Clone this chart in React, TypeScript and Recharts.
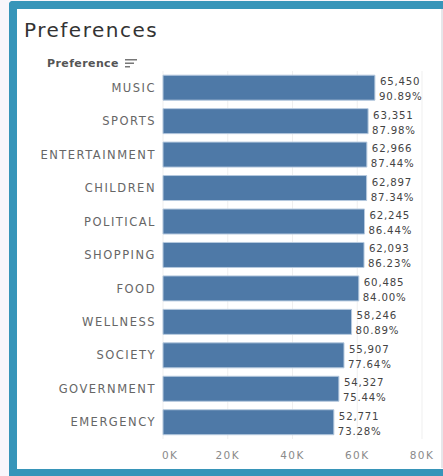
import { Bar, BarChart, CartesianGrid, LabelList, XAxis, YAxis } from "recharts";

const CATEGORIES = [
  "MUSIC",
  "SPORTS",
  "ENTERTAINMENT",
  "CHILDREN",
  "POLITICAL",
  "SHOPPING",
  "FOOD",
  "WELLNESS",
  "SOCIETY",
  "GOVERNMENT",
  "EMERGENCY",
];
const COUNTS = [65450, 63351, 62966, 62897, 62245, 62093, 60485, 58246, 55907, 54327, 52771];
const PERCENTS = [90.89, 87.98, 87.44, 87.34, 86.44, 86.23, 84.0, 80.89, 77.64, 75.44, 73.28];
const X_TICKS = [0, 20000, 40000, 60000, 80000];

const FONT = "'DejaVu Sans', sans-serif";
const TEAL = "#3795b9";
const BAR_BLUE = "#4e79a7";

const rows = CATEGORIES.map((name, i) => ({
  name,
  value: COUNTS[i],
  pct: PERCENTS[i],
}));

function XTick(props: any) {
  const { x, y, payload, index } = props;
  return (
    <text
      x={index === 0 ? x - 1 : x}
      y={y}
      dy="0.71em"
      textAnchor={index === 0 ? "start" : "middle"}
      fontSize={10.5}
      fill="#8a8a8a"
      fontFamily={FONT}
      letterSpacing={1.4}
    >
      {payload.value / 1000}K
    </text>
  );
}

function YTick(props: any) {
  const { x, y, payload } = props;
  return (
    <text
      x={x}
      y={y}
      dy="0.355em"
      textAnchor="end"
      fontSize={11.5}
      fill="#666"
      fontFamily={FONT}
      letterSpacing={1.5}
    >
      {payload.value}
    </text>
  );
}

function CountLabel(props: any) {
  const { x, y, width, height, value } = props;
  return (
    <text
      x={x + width + 5}
      y={y + height / 2 - 2.5}
      fontSize={10.2}
      fill="#444"
      fontFamily={FONT}
      letterSpacing={0.8}
    >
      {value.toLocaleString("en-US")}
    </text>
  );
}

function PctLabel(props: any) {
  const { x, y, width, height, value } = props;
  return (
    <text
      x={x + width + 4}
      y={y + height / 2 + 12.5}
      fontSize={10.2}
      fill="#444"
      fontFamily={FONT}
      letterSpacing={0.8}
    >
      {value.toFixed(2)}%
    </text>
  );
}

export default function App() {
  return (
    <div
      style={{
        position: "absolute",
        left: 0,
        top: 0,
        width: 443,
        height: 476,
        overflow: "hidden",
        background: "#f8f6fb",
        fontFamily: FONT,
      }}
    >
      <div
        style={{
          position: "absolute",
          left: 9,
          top: 1,
          width: 450,
          height: 475,
          boxSizing: "border-box",
          borderTop: `8px solid ${TEAL}`,
          borderLeft: `8px solid ${TEAL}`,
          borderBottom: `7px solid ${TEAL}`,
          borderTopLeftRadius: 4,
          background: "#fff",
        }}
      />
      <div
        style={{
          position: "absolute",
          left: 441,
          top: 9,
          width: 2,
          height: 459,
          background: "#e6e6ea",
        }}
      />
      <div
        style={{
          position: "absolute",
          left: 24,
          top: 19,
          fontSize: 20,
          lineHeight: "22px",
          color: "#333",
          letterSpacing: 1.5,
        }}
      >
        Preferences
      </div>
      <div
        style={{
          position: "absolute",
          left: 47,
          top: 57,
          fontSize: 11,
          lineHeight: "13px",
          fontWeight: "bold",
          color: "#555",
          letterSpacing: 0.4,
        }}
      >
        Preference
      </div>
      <svg style={{ position: "absolute", left: 125, top: 58 }} width={14} height={11}>
        <rect x={0} y={1} width={12} height={1.5} fill="#777" />
        <rect x={0} y={4.5} width={9} height={1.5} fill="#777" />
        <rect x={0} y={8} width={5} height={1.5} fill="#777" />
      </svg>
      <div style={{ position: "absolute", left: 17, top: 68 }}>
        <BarChart
          width={424}
          height={400}
          data={rows}
          layout="vertical"
          margin={{ top: 3, right: 19, bottom: 0, left: 0 }}
          barCategoryGap="12.5%"
        >
          <CartesianGrid horizontal={false} stroke="#efefef" />
          <XAxis
            type="number"
            domain={[0, 80000]}
            ticks={X_TICKS}
            axisLine={false}
            tickLine={false}
            tickSize={0}
            tickMargin={13}
            height={29}
            tick={<XTick />}
            interval={0}
          />
          <YAxis
            type="category"
            dataKey="name"
            width={146}
            axisLine={false}
            tickLine={false}
            tickSize={0}
            tickMargin={7}
            tick={<YTick />}
            interval={0}
          />
          <Bar
            dataKey="value"
            fill={BAR_BLUE}
            stroke="#b5c9de"
            strokeWidth={1}
            isAnimationActive={false}
          >
            <LabelList dataKey="value" content={<CountLabel />} />
            <LabelList dataKey="pct" content={<PctLabel />} />
          </Bar>
        </BarChart>
      </div>
    </div>
  );
}
